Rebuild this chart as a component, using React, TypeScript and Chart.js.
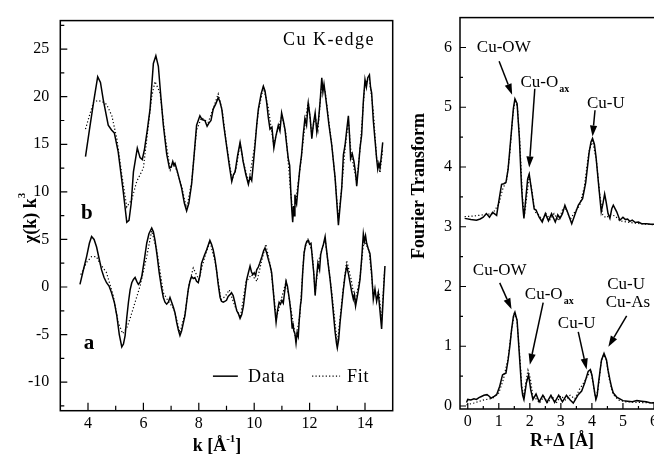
import React, { useEffect, useRef } from "react";
import { Chart, registerables } from "chart.js";
Chart.register(...registerables);

const FONT = '"Liberation Serif", "Times New Roman", serif';

// ---------- Left panel: k^3-weighted EXAFS ----------
const kDataB = [3.91,4.05,4.2,4.35,4.45,4.55,4.73,4.85,4.95,5.09,5.27,5.4,5.48,5.56,5.64,5.78,5.88,5.96,6.04,6.14,6.24,6.36,6.45,6.54,6.63,6.72,6.84,6.94,7.0,7.06,7.1,7.14,7.22,7.38,7.48,7.56,7.64,7.74,7.82,7.92,8.04,8.12,8.22,8.3,8.36,8.44,8.52,8.62,8.7,8.76,8.83,8.9,9.0,9.1,9.19,9.25,9.31,9.4,9.49,9.55,9.6,9.7,9.79,9.85,9.91,9.97,10.03,10.09,10.15,10.25,10.33,10.39,10.45,10.51,10.57,10.64,10.71,10.78,10.87,10.93,10.99,11.05,11.11,11.17,11.23,11.28,11.32,11.36,11.39,11.42,11.45,11.47,11.5,11.53,11.6,11.65,11.71,11.77,11.83,11.89,11.95,12.02,12.08,12.14,12.2,12.26,12.32,12.38,12.44,12.48,12.52,12.56,12.62,12.7,12.8,12.92,12.98,13.04,13.1,13.16,13.22,13.28,13.34,13.4,13.44,13.48,13.54,13.6,13.66,13.7,13.76,13.82,13.88,13.94,14.0,14.05,14.1,14.16,14.2,14.24,14.3,14.36,14.42,14.46,14.5,14.54,14.58,14.64];
const chiDataB = [13.7,16.5,19.4,22.1,21.5,19.7,17.0,16.5,16.2,14.2,10.1,6.8,7.0,8.8,12.1,14.6,13.6,13.4,14.5,16.5,18.7,23.5,24.3,23.2,20.0,17.0,14.0,12.5,12.6,13.2,12.8,13.0,12.2,10.4,8.8,8.0,8.8,10.8,13.5,17.0,18.0,17.6,17.5,16.9,17.2,17.5,18.7,19.3,19.9,19.5,18.7,17.0,14.9,12.8,11.1,11.8,12.1,13.8,15.2,14.2,13.2,11.8,10.8,11.6,11.2,13.0,14.9,17.0,18.7,20.3,21.1,20.6,19.4,17.8,16.6,16.8,14.6,15.8,17.0,16.4,18.3,17.5,16.6,15.0,13.5,12.8,10.1,8.0,6.8,8.5,7.5,9.7,9.0,8.7,11.0,12.5,13.9,16.0,17.7,17.0,19.4,17.8,15.6,17.2,18.3,16.3,17.5,19.5,22.0,20.5,21.3,20.4,19.0,17.0,14.9,11.5,9.0,6.5,8.5,10.4,13.9,14.9,16.5,18.0,16.0,13.5,14.0,13.2,12.0,10.6,12.5,14.6,16.0,19.5,21.8,21.0,22.0,22.3,21.0,20.4,17.5,15.5,13.5,12.4,13.0,12.5,13.5,15.2];

const kFitB = [3.91,4.08,4.2,4.35,4.5,4.67,4.86,5.04,5.22,5.4,5.58,5.76,6.0,6.18,6.3,6.42,6.6,6.78,6.97,7.06,7.2,7.38,7.56,7.74,7.92,8.1,8.34,8.55,8.7,8.85,9.0,9.2,9.35,9.49,9.62,9.8,10.0,10.15,10.33,10.5,10.7,10.88,11.0,11.15,11.3,11.4,11.5,11.7,11.85,11.95,12.08,12.2,12.3,12.44,12.56,12.8,12.92,13.04,13.16,13.28,13.4,13.5,13.7,13.82,14.0,14.16,14.3,14.42,14.54,14.64];
const chiFitB = [16.6,18.3,19.4,19.6,19.5,19.2,18.0,15.6,11.8,8.4,9.2,11.1,12.5,17.0,20.0,21.6,20.4,15.9,12.3,13.0,12.3,10.6,8.2,11.0,16.5,17.8,17.3,19.0,20.3,18.5,15.0,11.3,12.5,15.0,13.0,11.0,14.5,18.5,21.0,19.0,15.0,16.8,18.0,16.0,10.5,7.5,9.0,13.5,17.5,19.5,16.0,18.0,16.5,21.5,20.6,15.0,11.5,7.0,10.5,14.5,17.5,14.0,11.0,14.5,21.5,21.8,18.5,13.5,12.0,14.5];

const kDataA = [3.71,3.85,3.95,4.05,4.13,4.22,4.31,4.4,4.49,4.58,4.67,4.76,4.85,4.95,5.04,5.13,5.22,5.28,5.34,5.4,5.46,5.52,5.58,5.64,5.7,5.76,5.82,5.88,5.94,6.02,6.12,6.2,6.3,6.36,6.42,6.5,6.57,6.65,6.72,6.78,6.84,6.9,6.96,7.02,7.08,7.14,7.2,7.26,7.32,7.38,7.44,7.5,7.56,7.62,7.68,7.74,7.8,7.86,7.92,7.98,8.04,8.1,8.2,8.28,8.34,8.4,8.46,8.52,8.58,8.64,8.7,8.77,8.82,8.88,8.94,9.0,9.06,9.13,9.18,9.24,9.3,9.37,9.43,9.49,9.55,9.61,9.67,9.73,9.79,9.85,9.9,9.95,10.0,10.05,10.09,10.15,10.2,10.28,10.34,10.39,10.45,10.51,10.57,10.63,10.7,10.75,10.79,10.84,10.9,10.95,11.0,11.05,11.1,11.15,11.2,11.27,11.33,11.37,11.4,11.43,11.47,11.51,11.55,11.59,11.63,11.67,11.7,11.75,11.8,11.85,11.9,11.95,12.0,12.05,12.1,12.15,12.2,12.25,12.3,12.36,12.4,12.44,12.5,12.56,12.6,12.68,12.74,12.8,12.86,12.92,12.97,13.0,13.05,13.1,13.16,13.22,13.28,13.34,13.4,13.46,13.52,13.58,13.62,13.66,13.72,13.78,13.82,13.88,13.94,13.98,14.02,14.06,14.12,14.18,14.24,14.3,14.36,14.42,14.48,14.54,14.6,14.66,14.72];
const chiDataA = [0.27,2.0,3.2,4.6,5.3,5.0,4.2,3.0,1.8,1.0,0.45,0.1,-0.6,-1.6,-3.0,-5.0,-6.3,-6.0,-5.1,-3.2,-1.6,-0.3,0.45,0.8,1.0,0.6,0.27,0.5,1.1,2.6,4.6,5.6,6.2,5.8,4.9,3.2,1.5,0.0,-1.1,-1.6,-1.8,-1.6,-1.1,-1.6,-2.1,-2.7,-3.7,-4.5,-5.1,-4.6,-3.8,-3.0,-1.6,-0.25,0.6,1.1,0.9,1.0,0.6,0.45,1.2,2.5,3.3,3.9,4.4,4.9,4.5,3.9,3.0,1.8,0.3,-1.1,-1.5,-1.6,-1.5,-1.4,-1.0,-0.8,-0.6,-0.9,-1.6,-2.5,-2.8,-3.3,-2.9,-2.0,-0.6,0.8,1.5,2.2,1.6,1.3,1.5,1.2,1.8,2.1,2.5,3.2,3.8,4.1,3.6,2.9,2.3,1.5,-0.8,-2.5,-3.7,-2.5,-1.6,-1.8,-1.4,-1.7,-0.5,0.6,0.1,-1.3,-2.8,-4.3,-3.8,-4.6,-4.9,-5.9,-4.8,-5.2,-3.3,-1.9,-1.3,1.5,3.5,4.4,4.8,4.9,4.5,4.6,3.0,1.5,-0.9,1.0,2.5,1.8,3.4,3.9,4.5,5.3,4.2,2.2,0.8,-0.9,-2.8,-4.7,-5.9,-6.4,-5.5,-3.7,-2.0,-0.25,1.2,2.2,1.4,0.45,-0.5,-1.3,-0.8,-2.0,-1.0,0.0,0.8,3.0,5.6,4.8,5.4,4.6,4.0,3.5,1.5,-1.3,-0.2,-1.5,-0.6,-2.5,-4.4,-1.0,2.2];

const kFitA = [3.74,3.95,4.13,4.3,4.45,4.67,4.91,5.09,5.25,5.4,5.52,5.7,5.88,6.12,6.3,6.48,6.72,6.9,7.1,7.32,7.5,7.65,7.8,8.0,8.2,8.4,8.6,8.8,8.95,9.1,9.3,9.5,9.7,9.9,10.1,10.25,10.42,10.6,10.8,10.95,11.15,11.3,11.5,11.65,11.8,11.95,12.1,12.2,12.35,12.56,12.8,13.0,13.2,13.34,13.5,13.64,13.82,13.96,14.15,14.3,14.5,14.6,14.7];
const chiFitA = [1.3,2.6,3.2,3.2,2.4,1.5,-0.9,-3.7,-4.9,-4.3,-3.3,-1.6,0.1,3.2,5.9,3.9,-0.6,-1.5,-2.3,-4.8,-2.8,0.3,2.0,0.8,3.0,4.8,2.5,-1.3,-1.0,-0.3,-2.0,-3.2,0.5,1.3,0.6,2.5,4.5,2.0,-3.3,-1.6,0.6,-1.8,-5.5,-3.0,3.8,5.1,3.5,-0.5,3.0,5.0,-0.5,-6.0,-0.5,2.8,0.8,-1.6,1.0,5.0,3.8,-0.8,-0.5,-3.5,1.6];

const leftXTicks = [4, 6, 8, 10, 12, 14];
const leftXMinor = [5, 7, 9, 11, 13];
const leftYTicks = [-10, -5, 0, 5, 10, 15, 20, 25];
const leftYMinor = [-12.5, -7.5, -2.5, 2.5, 7.5, 12.5, 17.5, 22.5, 27.5];

// ---------- Right panel: Fourier transforms ----------
const rDataU = [-0.1,0.1,0.28,0.4,0.5,0.6,0.7,0.8,0.93,1.03,1.09,1.16,1.23,1.3,1.41,1.47,1.52,1.59,1.66,1.73,1.78,1.81,1.87,1.93,1.98,2.05,2.14,2.2,2.3,2.4,2.5,2.6,2.7,2.82,2.9,2.97,3.05,3.13,3.22,3.35,3.45,3.56,3.7,3.8,3.91,3.97,4.02,4.08,4.13,4.23,4.3,4.36,4.41,4.46,4.52,4.58,4.64,4.69,4.75,4.8,4.9,5.0,5.08,5.15,5.22,5.3,5.4,5.5,5.6,5.76,5.9,6.05,6.2];
const ftDataU = [3.14,3.12,3.11,3.13,3.16,3.22,3.16,3.24,3.19,3.52,3.71,3.72,3.74,3.96,4.62,4.98,5.14,5.06,4.51,3.69,3.3,3.14,3.47,3.8,3.88,3.63,3.3,3.28,3.16,3.08,3.22,3.1,3.22,3.08,3.2,3.14,3.22,3.36,3.24,3.05,3.2,3.36,3.47,3.74,4.24,4.42,4.48,4.38,4.18,3.63,3.25,3.4,3.55,3.41,3.22,3.14,3.3,3.36,3.3,3.25,3.11,3.16,3.12,3.13,3.09,3.11,3.07,3.08,3.05,3.05,3.04,3.04,3.03];

const rFitU = [-0.1,0.2,0.5,0.8,1.0,1.12,1.25,1.35,1.45,1.52,1.6,1.68,1.76,1.83,1.9,1.98,2.07,2.16,2.28,2.4,2.52,2.65,2.78,2.92,3.05,3.18,3.3,3.45,3.6,3.75,3.9,4.02,4.15,4.25,4.35,4.45,4.6,4.75,4.9,5.1,5.4,5.8,6.2];
const ftFitU = [3.17,3.18,3.2,3.22,3.38,3.62,3.78,4.2,4.85,5.12,5.0,4.4,3.5,3.2,3.5,3.85,3.6,3.25,3.2,3.12,3.22,3.12,3.22,3.1,3.28,3.3,3.12,3.25,3.35,3.65,4.25,4.44,4.1,3.55,3.2,3.15,3.2,3.18,3.1,3.08,3.06,3.04,3.03];

const rDataL = [-0.04,0.0,0.1,0.2,0.28,0.36,0.44,0.52,0.62,0.7,0.75,0.85,0.93,1.03,1.12,1.18,1.23,1.3,1.36,1.41,1.47,1.52,1.59,1.66,1.73,1.77,1.81,1.85,1.89,1.96,2.03,2.1,2.2,2.3,2.42,2.55,2.68,2.8,2.93,3.05,3.18,3.3,3.4,3.48,3.56,3.67,3.77,3.88,3.95,4.0,4.04,4.09,4.13,4.17,4.2,4.26,4.31,4.39,4.47,4.52,4.58,4.64,4.69,4.8,4.9,5.0,5.15,5.3,5.45,5.6,5.75,5.9,6.05,6.2];
const ftDataL = [0.06,0.11,0.1,0.12,0.11,0.14,0.16,0.18,0.19,0.16,0.13,0.16,0.19,0.33,0.52,0.54,0.55,0.77,1.02,1.27,1.5,1.57,1.43,0.88,0.33,0.18,0.11,0.25,0.39,0.52,0.27,0.11,0.2,0.07,0.18,0.06,0.18,0.06,0.18,0.07,0.18,0.1,0.05,0.12,0.19,0.25,0.39,0.58,0.61,0.52,0.39,0.22,0.11,0.18,0.33,0.58,0.77,0.88,0.77,0.6,0.44,0.3,0.22,0.15,0.12,0.09,0.08,0.07,0.09,0.08,0.07,0.05,0.06,0.05];

const rFitL = [-0.04,0.2,0.5,0.8,1.0,1.15,1.3,1.42,1.5,1.58,1.66,1.74,1.8,1.86,1.94,2.02,2.1,2.2,2.32,2.45,2.58,2.72,2.85,3.0,3.15,3.3,3.45,3.6,3.75,3.88,3.97,4.05,4.12,4.2,4.3,4.38,4.46,4.56,4.68,4.85,5.1,5.5,6.2];
const ftFitL = [0.02,0.05,0.1,0.13,0.22,0.45,0.8,1.3,1.55,1.45,0.95,0.35,0.15,0.35,0.6,0.45,0.15,0.12,0.05,0.16,0.05,0.16,0.05,0.17,0.1,0.18,0.12,0.28,0.4,0.52,0.57,0.35,0.12,0.28,0.75,0.86,0.78,0.45,0.2,0.1,0.07,0.06,0.05];

const rightXTicks = [0, 1, 2, 3, 4, 5, 6];
const rightXMinor = [0.5, 1.5, 2.5, 3.5, 4.5, 5.5];
const rightYTicks = [0, 1, 2, 3, 4, 5, 6];
const rightYMinor = [0.5, 1.5, 2.5, 3.5, 4.5, 5.5];

const xy = (xs: number[], ys: number[]) => xs.map((x, i) => ({ x, y: ys[i] }));

type Part = { t: string; font: string; dy?: number };
function drawRich(ctx: CanvasRenderingContext2D, parts: Part[], cx: number, cy: number) {
  let w = 0;
  for (const p of parts) { ctx.font = p.font; w += ctx.measureText(p.t).width; }
  let x = cx - w / 2;
  ctx.textAlign = "left";
  ctx.textBaseline = "middle";
  for (const p of parts) {
    ctx.font = p.font;
    ctx.fillText(p.t, x, cy + (p.dy || 0));
    x += ctx.measureText(p.t).width;
  }
}

function arrow(ctx: CanvasRenderingContext2D, x1: number, y1: number, x2: number, y2: number) {
  const ang = Math.atan2(y2 - y1, x2 - x1);
  const hl = 11, hw = 3.6;
  const bx = x2 - hl * Math.cos(ang), by = y2 - hl * Math.sin(ang);
  ctx.beginPath(); ctx.moveTo(x1, y1); ctx.lineTo(bx, by); ctx.stroke();
  ctx.beginPath();
  ctx.moveTo(x2, y2);
  ctx.lineTo(bx + hw * Math.sin(ang), by - hw * Math.cos(ang));
  ctx.lineTo(bx - hw * Math.sin(ang), by + hw * Math.cos(ang));
  ctx.closePath(); ctx.fill();
}

function drawFrame(chart: any, xMaj: number[], xMin: number[], yMaj: number[], yMin: number[], L: { xM: number; xm: number; yM: number; ym: number }) {
  const { ctx, chartArea: a, scales } = chart;
  const sx = scales.x, sy = scales.y;
  ctx.strokeStyle = "#000";
  ctx.lineWidth = 1.5;
  ctx.strokeRect(a.left, a.top, a.right - a.left, a.bottom - a.top);
  ctx.lineWidth = 1.2;
  ctx.beginPath();
  for (const v of xMaj) { const p = sx.getPixelForValue(v); ctx.moveTo(p, a.bottom); ctx.lineTo(p, a.bottom - L.xM); }
  for (const v of xMin) { const p = sx.getPixelForValue(v); ctx.moveTo(p, a.bottom); ctx.lineTo(p, a.bottom - L.xm); }
  for (const v of yMaj) { const p = sy.getPixelForValue(v); ctx.moveTo(a.left, p); ctx.lineTo(a.left + L.yM, p); }
  for (const v of yMin) { const p = sy.getPixelForValue(v); ctx.moveTo(a.left, p); ctx.lineTo(a.left + L.ym, p); }
  ctx.stroke();
}

const leftDecor = {
  id: "leftDecor",
  afterDraw(chart: any) {
    const { ctx, scales } = chart;
    const sx = scales.x, sy = scales.y;
    ctx.save();
    drawFrame(chart, leftXTicks, leftXMinor, leftYTicks, leftYMinor, { xM: 8, xm: 5, yM: 7, ym: 4 });
    ctx.fillStyle = "#000";
    ctx.strokeStyle = "#000";
    // title
    ctx.font = `18px ${FONT}`;
    ctx.textAlign = "left"; ctx.textBaseline = "middle";
    (ctx as any).letterSpacing = "1.5px";
    ctx.fillText("Cu K-edge", sx.getPixelForValue(11.04), sy.getPixelForValue(25.96));
    (ctx as any).letterSpacing = "0px";
    // series labels
    ctx.font = `bold 21px ${FONT}`;
    ctx.textAlign = "center";
    ctx.fillText("b", sx.getPixelForValue(3.96), sy.getPixelForValue(7.67));
    ctx.fillText("a", sx.getPixelForValue(4.04), sy.getPixelForValue(-5.93));
    // legend
    const ly = sy.getPixelForValue(-9.37);
    ctx.lineWidth = 1.5;
    ctx.beginPath(); ctx.moveTo(sx.getPixelForValue(8.51), ly); ctx.lineTo(sx.getPixelForValue(9.41), ly); ctx.stroke();
    ctx.lineWidth = 1.2;
    ctx.setLineDash([1.2, 2.2]);
    ctx.beginPath(); ctx.moveTo(sx.getPixelForValue(12.09), ly); ctx.lineTo(sx.getPixelForValue(13.1), ly); ctx.stroke();
    ctx.setLineDash([]);
    ctx.font = `18px ${FONT}`;
    ctx.textAlign = "left";
    (ctx as any).letterSpacing = "0.8px";
    ctx.fillText("Data", sx.getPixelForValue(9.78), ly + 1);
    ctx.fillText("Fit", sx.getPixelForValue(13.35), ly + 1);
    (ctx as any).letterSpacing = "0px";
    // axis titles
    const b18 = `bold 18px ${FONT}`, b11 = `bold 11px ${FONT}`;
    drawRich(ctx, [{ t: "k [Å", font: b18 }, { t: "-1", font: b11, dy: -7 }, { t: "]", font: b18 }], 217, 446);
    ctx.translate(31, 218);
    ctx.rotate(-Math.PI / 2);
    drawRich(ctx, [{ t: "χ(k) k", font: b18 }, { t: "3", font: b11, dy: -9 }], 0, 0);
    ctx.restore();
  },
};

const rightDecor = {
  id: "rightDecor",
  afterDraw(chart: any) {
    const { ctx, scales } = chart;
    const sx = scales.x, sy = scales.y;
    ctx.save();
    drawFrame(chart, rightXTicks, rightXMinor, rightYTicks, rightYMinor, { xM: 6, xm: 3, yM: 6, ym: 3 });
    ctx.fillStyle = "#000";
    ctx.strokeStyle = "#000";
    ctx.lineWidth = 1.5;
    const P = (r: number, v: number): [number, number] => [sx.getPixelForValue(r), sy.getPixelForValue(v)];
    const f17 = `17px ${FONT}`, f10 = `bold 10px ${FONT}`;
    const label = (t: string, r: number, v: number) => {
      const [x, y] = P(r, v);
      drawRich(ctx, [{ t, font: f17 }], x, y);
    };
    const labelOax = (r: number, v: number) => {
      const [x, y] = P(r, v);
      ctx.font = f17; ctx.textAlign = "left"; ctx.textBaseline = "middle";
      ctx.fillText("Cu-O", x, y);
      const w = ctx.measureText("Cu-O").width;
      ctx.font = f10;
      ctx.fillText("ax", x + w + 1, y + 7);
    };
    const arr = (r1: number, v1: number, r2: number, v2: number) => {
      const [x1, y1] = P(r1, v1), [x2, y2] = P(r2, v2);
      arrow(ctx, x1, y1, x2, y2);
    };
    // upper
    label("Cu-OW", 1.16, 6.0);
    arr(1.01, 5.77, 1.43, 5.21);
    labelOax(1.7, 5.41);
    arr(2.16, 5.31, 1.98, 3.99);
    label("Cu-U", 4.45, 5.07);
    arr(4.1, 4.95, 4.02, 4.51);
    // lower
    label("Cu-OW", 1.03, 2.26);
    arr(1.03, 2.06, 1.41, 1.62);
    labelOax(1.84, 1.87);
    arr(2.43, 1.73, 2.0, 0.69);
    label("Cu-U", 3.51, 1.38);
    arr(3.56, 1.24, 3.83, 0.61);
    label("Cu-U", 5.1, 2.04);
    label("Cu-As", 5.16, 1.73);
    arr(5.12, 1.51, 4.53, 0.99);
    // axis titles
    const b18 = `bold 18px ${FONT}`;
    drawRich(ctx, [{ t: "R+Δ [Å]", font: b18 }], 162, 441);
    ctx.translate(19, 186);
    ctx.rotate(-Math.PI / 2);
    drawRich(ctx, [{ t: "Fourier Transform", font: b18 }], 0, 0);
    ctx.restore();
  },
};

const solid = (data: any[]) => ({ data, showLine: true, borderColor: "#000", borderWidth: 1.5, pointRadius: 0, tension: 0 });
const dotted = (data: any[]) => ({ data, showLine: true, borderColor: "#000", borderWidth: 1.2, borderDash: [1.2, 2.2], pointRadius: 0, tension: 0 });

function axes(o: { xmin: number; xmax: number; ymin: number; ymax: number; xt: number[]; yt: number[]; xh: number; yw: number; ypad: number }) {
  const tickFont = { family: FONT, size: 16 };
  return {
    x: {
      type: "linear", min: o.xmin, max: o.xmax,
      afterBuildTicks: (s: any) => { s.ticks = o.xt.map((v) => ({ value: v })); },
      afterFit: (s: any) => { s.height = o.xh; },
      grid: { display: false, drawTicks: false },
      border: { display: false },
      ticks: { font: tickFont, color: "#000", padding: 3, maxRotation: 0, autoSkip: false },
    },
    y: {
      type: "linear", min: o.ymin, max: o.ymax,
      afterBuildTicks: (s: any) => { s.ticks = o.yt.map((v) => ({ value: v })); },
      afterFit: (s: any) => { s.width = o.yw; },
      grid: { display: false, drawTicks: false },
      border: { display: false },
      ticks: { font: tickFont, color: "#000", padding: o.ypad, autoSkip: false },
    },
  };
}

export default function App() {
  const leftRef = useRef<HTMLCanvasElement>(null);
  const rightRef = useRef<HTMLCanvasElement>(null);
  useEffect(() => {
    const left = new Chart(leftRef.current as HTMLCanvasElement, {
      type: "scatter",
      data: {
        datasets: [
          solid(xy(kDataB, chiDataB)), dotted(xy(kFitB, chiFitB)),
          solid(xy(kDataA, chiDataA)), dotted(xy(kFitA, chiFitA)),
        ] as any,
      },
      options: {
        animation: false, responsive: false, devicePixelRatio: 1,
        layout: { padding: { top: 14, right: 7.3, bottom: 0, left: 0 } },
        plugins: { legend: { display: false }, tooltip: { enabled: false } },
        scales: axes({ xmin: 3, xmax: 15, ymin: -13, ymax: 28, xt: leftXTicks, yt: leftYTicks, xh: 49.3, yw: 60.3, ypad: 11 }) as any,
      },
      plugins: [leftDecor],
    });
    const right = new Chart(rightRef.current as HTMLCanvasElement, {
      type: "scatter",
      data: {
        datasets: [
          solid(xy(rDataU, ftDataU)), dotted(xy(rFitU, ftFitU)),
          solid(xy(rDataL, ftDataL)), dotted(xy(rFitL, ftFitL)),
        ] as any,
      },
      options: {
        animation: false, responsive: false, devicePixelRatio: 1,
        layout: { padding: { top: 12, right: 10.5, bottom: 0, left: 0 } },
        plugins: { legend: { display: false }, tooltip: { enabled: false } },
        scales: axes({ xmin: -0.25, xmax: 6.5, ymin: -0.05, ymax: 6.5, xt: rightXTicks, yt: rightYTicks, xh: 51, yw: 60, ypad: 8 }) as any,
      },
      plugins: [rightDecor],
    });
    return () => { left.destroy(); right.destroy(); };
  }, []);
  return (
    <div style={{ position: "fixed", left: 0, top: 0, width: 654, height: 460, overflow: "hidden", background: "#fff" }}>
      <canvas ref={leftRef} width={400} height={460} style={{ position: "absolute", left: 0, top: 0, width: 400, height: 460 }} />
      <canvas ref={rightRef} width={280} height={460} style={{ position: "absolute", left: 400, top: 0, width: 280, height: 460 }} />
    </div>
  );
}
